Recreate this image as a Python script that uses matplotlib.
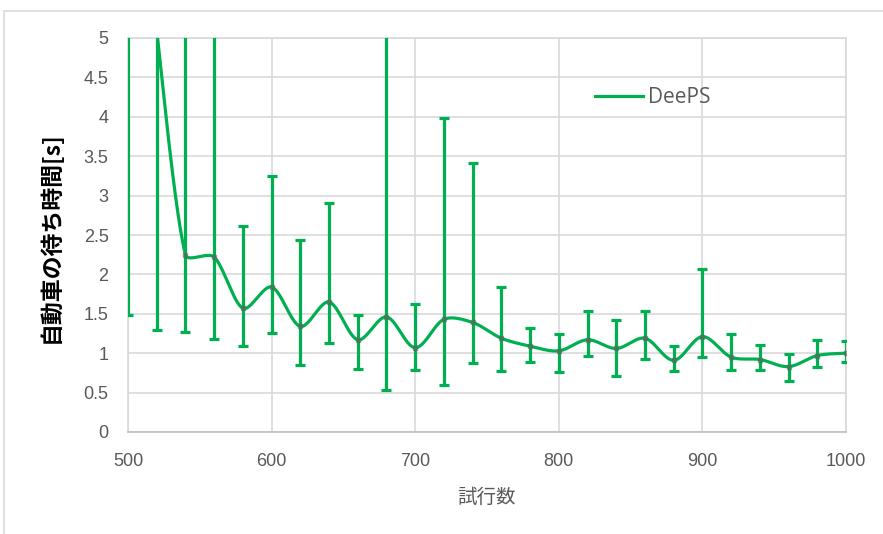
import numpy as np
import matplotlib
matplotlib.use('Agg')
import matplotlib.pyplot as plt
from matplotlib.patches import Rectangle

# trials (x), mean waiting time and the error bar ends
trials = [500, 520, 540, 560, 580, 600, 620, 640, 660, 680, 700, 720, 740,
          760, 780, 800, 820, 840, 860, 880, 900, 920, 940, 960, 980, 1000]
mean_wait = [9.0, 5.1, 2.25, 2.22, 1.57, 1.84, 1.34, 1.65, 1.17, 1.46, 1.07, 1.43, 1.39,
             1.19, 1.09, 1.03, 1.17, 1.06, 1.19, 0.91, 1.21, 0.95, 0.92, 0.83, 0.97, 1.00]
upper_wait = [15.0, 12.0, 8.0, 7.0, 2.61, 3.25, 2.44, 2.91, 1.48, 6.0, 1.63, 3.98, 3.42,
              1.84, 1.32, 1.24, 1.53, 1.42, 1.54, 1.09, 2.07, 1.24, 1.11, 0.99, 1.17, 1.155]
lower_wait = [1.48, 1.30, 1.27, 1.18, 1.09, 1.26, 0.855, 1.13, 0.80, 0.53, 0.79, 0.60, 0.87,
              0.78, 0.89, 0.76, 0.97, 0.71, 0.93, 0.77, 0.95, 0.79, 0.79, 0.65, 0.82, 0.885]

GREEN = '#00b050'
GRID = '#d9d9d9'
TXT = '#595959'
NUM_FONT = ['Liberation Sans Narrow', 'Liberation Sans', 'DejaVu Sans']
JP_FONT = ['Noto Sans CJK JP', 'DejaVu Sans']


def smooth_curve(xs, ys, sx=1.436, sy=78.8, n=40):
    # excel-like bezier smoothing, done in (approx) pixel space so that
    # the handles can be shortened next to a short segment
    P = np.column_stack([np.asarray(xs, float) * sx, np.asarray(ys, float) * sy])
    P = np.vstack([P[:1], P, P[-1:]])
    t = np.linspace(0, 1, n)[:, None]
    out = []
    for i in range(1, len(P) - 2):
        p0, p1, p2, p3 = P[i - 1], P[i], P[i + 1], P[i + 2]
        d01 = np.hypot(*(p1 - p0))
        d12 = np.hypot(*(p2 - p1))
        d23 = np.hypot(*(p3 - p2))
        k1 = 2 * d12 / (d01 + d12) if d01 > 0 else 1.0
        k2 = 2 * d12 / (d12 + d23) if d23 > 0 else 1.0
        c1 = p1 + (p2 - p0) / 6 * min(k1, 1.0)
        c2 = p2 - (p3 - p1) / 6 * min(k2, 1.0)
        b = (1 - t) ** 3 * p1 + 3 * (1 - t) ** 2 * t * c1 + 3 * (1 - t) * t ** 2 * c2 + t ** 3 * p2
        out.append(b)
    out = np.vstack(out)
    return out[:, 0] / sx, out[:, 1] / sy


fig = plt.figure(figsize=(8.83, 5.34), dpi=100)
ax = fig.add_axes([128 / 883, 102 / 534, 718 / 883, 394 / 534])

fig.patches.append(Rectangle((4 / 883, -0.1), 2, 1 - 11 / 534 + 0.1, transform=fig.transFigure,
                             fill=False, edgecolor=GRID, lw=1.2))

m = np.array(mean_wait)
yerr = [m - np.array(lower_wait), np.array(upper_wait) - m]
ax.errorbar(trials, mean_wait, yerr=yerr, fmt='none', ecolor=GREEN, elinewidth=2.3,
            capsize=3.8, capthick=2.3, zorder=3)
cx, cy = smooth_curve(trials, mean_wait)
ax.plot(cx, cy, color=GREEN, lw=2.3, label='DeePS', zorder=4)
ax.plot(trials, mean_wait, ls='none', marker='s', ms=3, color='#606060', alpha=0.55, zorder=5)

ax.set_xlim(500, 1000)
ax.set_ylim(0, 5)
ax.set_xticks([500, 600, 700, 800, 900, 1000])
ax.set_yticks(np.arange(0, 5.01, 0.5))
ax.set_yticklabels(['0', '0.5', '1', '1.5', '2', '2.5', '3', '3.5', '4', '4.5', '5'])
ax.grid(True, color=GRID, lw=1.2)
ax.set_axisbelow(True)
for s in ax.spines.values():
    s.set_color(GRID)
    s.set_linewidth(1.2)
ax.spines['bottom'].set_color('#bfbfbf')
ax.tick_params(length=0, labelsize=13, labelcolor=TXT)
ax.tick_params(axis='x', pad=15)
ax.tick_params(axis='y', pad=14)
for lab in ax.get_xticklabels() + ax.get_yticklabels():
    lab.set_family(NUM_FONT)

leg = ax.legend(loc='center left', bbox_to_anchor=(0.65, 0.848), frameon=False,
                borderpad=0, borderaxespad=0, handlelength=2.3, handletextpad=0.25,
                prop={'family': ['Open Sans', 'DejaVu Sans'], 'size': 15})
for t in leg.get_texts():
    t.set_color(TXT)

fig.text(51 / 883, 1 - 237 / 534, '自動車の待ち時間[s]', rotation=90, ha='center', va='center',
         fontsize=16.5, fontweight='bold', family=JP_FONT, color='black')
fig.text(487 / 883, 1 - 497 / 534, '試行数', ha='center', va='center',
         fontsize=14, family=JP_FONT, color=TXT)

fig.savefig('out.png', dpi=100)
